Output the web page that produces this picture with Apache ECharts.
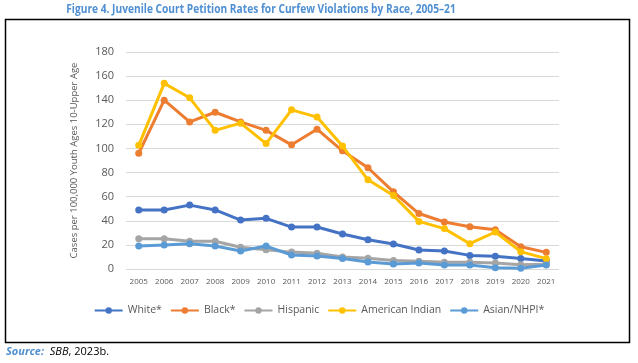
<!DOCTYPE html>
<html><head><meta charset="utf-8">
<script src="https://cdn.jsdelivr.net/npm/echarts@6/dist/echarts.min.js"></script>
<style>html,body{margin:0;padding:0;background:#fff}#c{width:638px;height:363px}</style>
</head><body><div id="c"></div>
<script>
const years = ['2005','2006','2007','2008','2009','2010','2011','2012','2013','2014','2015','2016','2017','2018','2019','2020','2021'];
const white = [49,49,53,49,40.6,42,34.8,34.8,29,24.3,20.7,15.8,15,11.3,10.5,8.8,6.6];
const black = [96,140,122,130,122,115,103,116,98,84,64,46,39,35,32.6,18.5,13.8];
const hispanic = [25,25,23,23,18,16,14,13,10,9,7,6.4,5.5,5.5,5,3.5,4];
const amIndian = [102.6,154,142,115,121,104,132,126,102,74,61,39.5,33.5,21,30.7,14.4,8.6];
const asian = [19,20,21,19,15,19,11.6,10.8,8.8,5.8,4.1,5,3.3,3.3,1.1,0.6,3.3];
const names = ['White*','Black*','Hispanic','American Indian','Asian/NHPI*'];
const colors = ['#4472C4','#ED7D31','#A5A5A5','#FFC000','#5B9BD5'];
const yTicks = [0,20,40,60,80,100,120,140,160,180];

const font = "'Open Sans', 'Liberation Sans', sans-serif";
const chart = echarts.init(document.getElementById('c'), null, {renderer:'canvas'});
const dataSets = [white, black, hispanic, amIndian, asian];
chart.setOption({
  animation:false,
  color: colors,
  grid:{left:126, right:79, top:52, bottom:94, containLabel:false},
  legend:{
    data:names, top:300, left:'center', itemWidth:28, itemHeight:8, itemGap:8,
    textStyle:{color:'#595959', fontSize:10.5, fontFamily:font}
  },
  xAxis:{
    type:'category', data:years, boundaryGap:true,
    axisLine:{show:false}, axisTick:{show:false},
    axisLabel:{color:'#595959', fontSize:8, fontFamily:font, margin:9}
  },
  yAxis:{
    type:'value', min:yTicks[0], max:yTicks[yTicks.length-1], interval:20,
    name:'Cases per 100,000 Youth Ages 10-Upper Age', nameLocation:'middle', nameGap:47,
    nameTextStyle:{color:'#595959', fontSize:9.5, fontFamily:font},
    axisLine:{show:false}, axisTick:{show:false},
    axisLabel:{color:'#595959', fontSize:11, fontFamily:font, margin:12},
    splitLine:{lineStyle:{color:'#D9D9D9', width:1}}
  },
  series: names.map((n,i)=>({
    name:n, type:'line', data:dataSets[i], symbol:'circle', symbolSize:7,
    lineStyle:{width:3, color:colors[i]}, itemStyle:{color:colors[i]}, z: 2+i
  })),
  graphic:[
    {type:'text', x:261, y:9, scaleX:0.815, scaleY:1, originX:0, originY:0, style:{
      text:'Figure 4. Juvenile Court Petition Rates for Curfew Violations by Race, 2005–21',
      fill:'#4F8FD2', font:"bold 12.5px 'Open Sans', sans-serif", textAlign:'center', textVerticalAlign:'middle'
    }},
    {type:'rect', shape:{x:5.5, y:19.5, width:624, height:323}, style:{fill:null, stroke:'#000', lineWidth:1.5}, silent:true},
    {type:'text', left:6, top:346, style:{
      rich:{
        s:{fontStyle:'italic', fontWeight:'bold', fill:'#4F8FD2', fontSize:11, fontFamily:font},
        b:{fontStyle:'italic', fill:'#000', fontSize:11, fontFamily:font},
        n:{fill:'#000', fontSize:11, fontFamily:font}
      },
      text:'{s|Source:}{n|  }{b|SBB}{n|, 2023b.}'
    }}
  ]
});
</script></body></html>
